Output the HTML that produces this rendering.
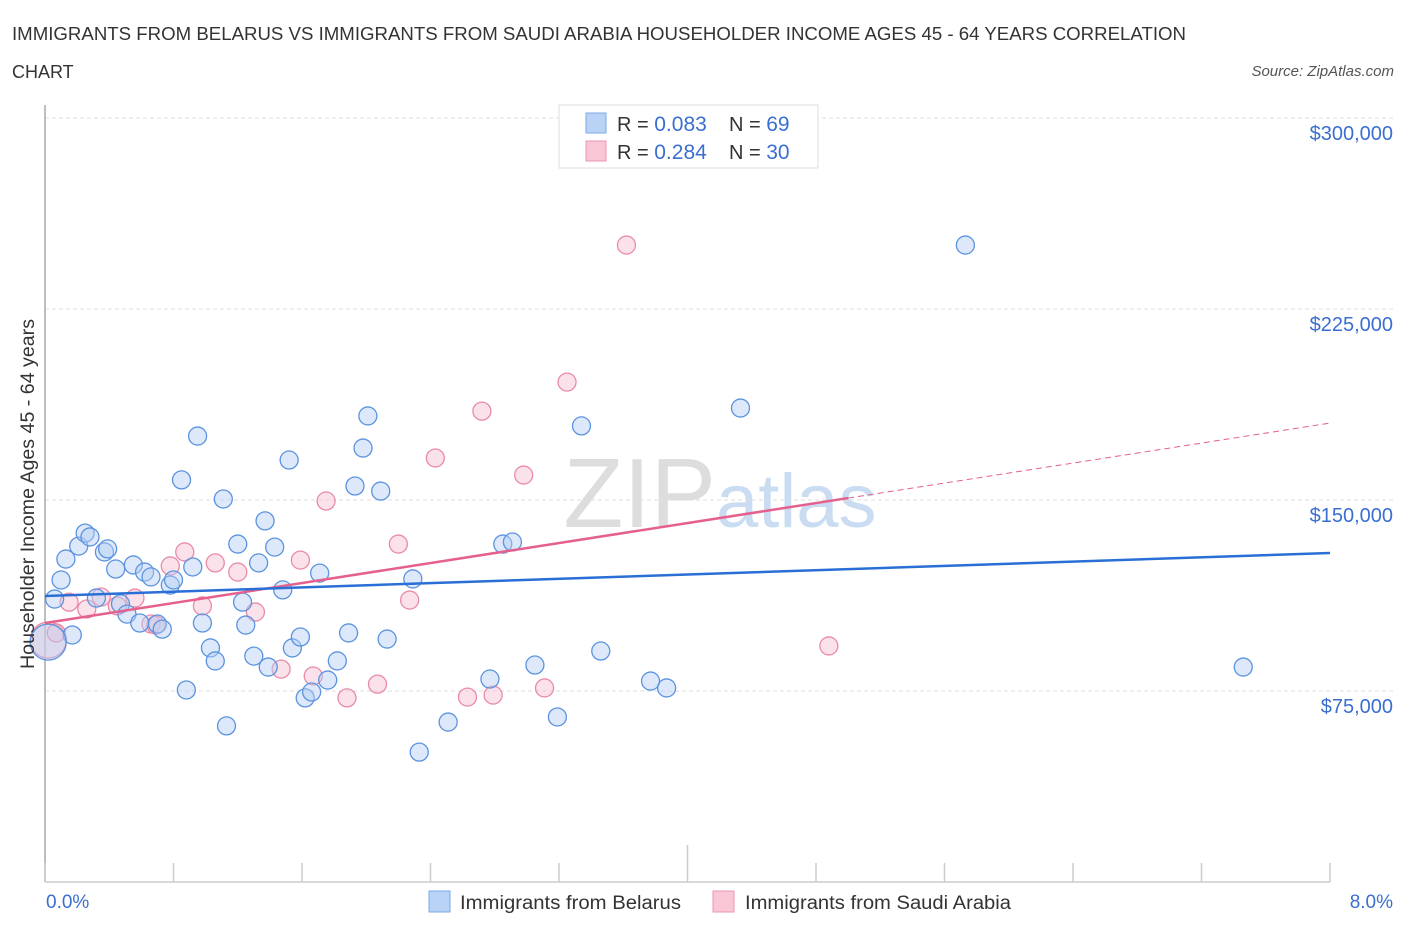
<!DOCTYPE html>
<html><head><meta charset="utf-8">
<style>
body{margin:0;background:#fff;font-family:"Liberation Sans",sans-serif;}
svg text{font-family:"Liberation Sans",sans-serif;}
</style></head>
<body>
<svg width="1406" height="930" viewBox="0 0 1406 930">
<text x="12" y="40" font-size="18" fill="#333" textLength="1174" lengthAdjust="spacingAndGlyphs">IMMIGRANTS FROM BELARUS VS IMMIGRANTS FROM SAUDI ARABIA HOUSEHOLDER INCOME AGES 45 - 64 YEARS CORRELATION</text>
<text x="12" y="78" font-size="18" fill="#333">CHART</text>
<text x="1394" y="76" font-size="15" fill="#555" font-style="italic" text-anchor="end">Source: ZipAtlas.com</text>
<text x="716" y="527" font-size="98" fill="#ddd" text-anchor="end" font-family="Liberation Serif">ZIP</text>
<text x="716" y="527" font-size="76" fill="#c9dcf2">atlas</text>
<g id="grid"></g>
<g id="axes"></g>
<g id="marks"></g>
<text transform="translate(34,494) rotate(-90)" font-size="19" fill="#333" text-anchor="middle" textLength="350" lengthAdjust="spacingAndGlyphs">Householder Income Ages 45 - 64 years</text>
<text x="46" y="908" font-size="19" fill="#3a6fd0">0.0%</text>
<text x="1393" y="908" font-size="19" fill="#3a6fd0" text-anchor="end">8.0%</text>
<g>
<rect x="559" y="105" width="259" height="63" fill="#fff" stroke="#ddd"/>
<rect x="586" y="113" width="20" height="20" fill="#b8d3f5" stroke="#7aa8e6"/>
<rect x="586" y="141" width="20" height="20" fill="#f9c6d6" stroke="#ec95b1"/>
<text x="617" y="131" font-size="20" fill="#333">R = <tspan fill="#3a6fd0" font-size="21">0.083</tspan></text>
<text x="729" y="131" font-size="20" fill="#333">N = <tspan fill="#3a6fd0" font-size="21">69</tspan></text>
<text x="617" y="159" font-size="20" fill="#333">R = <tspan fill="#3a6fd0" font-size="21"> 0.284</tspan></text>
<text x="729" y="159" font-size="20" fill="#333">N = <tspan fill="#3a6fd0" font-size="21">30</tspan></text>
</g>
<g>
<rect x="429" y="891" width="21" height="21" fill="#b8d3f5" stroke="#7aa8e6"/>
<text x="460" y="909" font-size="19" fill="#333" textLength="221" lengthAdjust="spacingAndGlyphs">Immigrants from Belarus</text>
<rect x="713" y="891" width="21" height="21" fill="#f9c6d6" stroke="#ec95b1"/>
<text x="745" y="909" font-size="19" fill="#333" textLength="266" lengthAdjust="spacingAndGlyphs">Immigrants from Saudi Arabia</text>
</g>
</svg>
<script>
const yTicks=[75000,150000,225000,300000];
const yTickLabels=["$75,000","$150,000","$225,000","$300,000"];
const xTicks=[0,0.8,1.6,2.4,3.2,4.0,4.8,5.6,6.4,7.2,8.0];
const belX=[0.06,0.10,0.13,0.17,0.21,0.25,0.28,0.32,0.37,0.39,0.44,0.47,0.51,0.55,0.59,0.62,0.66,0.70,0.73,0.78,0.80,0.85,0.88,0.92,0.95,0.98,1.03,1.06,1.11,1.13,1.20,1.23,1.25,1.30,1.33,1.37,1.39,1.43,1.48,1.52,1.54,1.59,1.62,1.66,1.71,1.76,1.82,1.89,1.93,1.98,2.01,2.09,2.13,2.29,2.33,2.51,2.77,2.85,2.91,3.05,3.19,3.34,3.46,3.77,3.87,4.33,5.73,7.46,0.02];
const belY=[111100,118600,126800,97000,131900,137000,135500,111500,129600,130800,122900,109200,105200,124500,101700,121700,119800,101300,99300,116600,118600,157900,75400,123700,175100,101700,91900,86800,150400,61300,132700,109900,100900,88700,125300,141800,84400,131500,114700,165700,91900,96200,72300,74600,121300,79300,86800,97800,155500,170400,183000,153500,95400,119000,51000,62800,79700,132700,133500,85200,64800,179100,90700,78900,76200,186100,250100,84400,94200];
const belSize=belX.map((v,i)=>i===belX.length-1?18:9);
const sauX=[0.02,0.07,0.15,0.26,0.35,0.45,0.56,0.66,0.69,0.78,0.87,0.98,1.06,1.20,1.31,1.47,1.59,1.67,1.75,1.88,2.07,2.20,2.27,2.43,2.63,2.72,2.79,2.98,3.11,3.25,3.62,4.88];
const sauY=[95000,97800,109900,107200,111900,108400,111500,101300,100900,124100,129600,108400,125300,121700,106000,83600,126400,80900,149600,72300,77700,132700,110700,166500,72600,184900,73400,159800,76200,196300,250100,92700];
const belTrend=[112300,129200];
const sauTrend=[101700,180200];
const sauSolidEnd=5.0;

const X0=45,X1=1330,Y0=882,Y1=118;
const xs=v=>X0+v/8*(X1-X0);
const ys=v=>Y0-v/300000*(Y0-Y1);
const NS="http://www.w3.org/2000/svg";
function mk(tag,attrs,parent){const e=document.createElementNS(NS,tag);for(const k in attrs)e.setAttribute(k,attrs[k]);parent.appendChild(e);return e;}
const grid=document.getElementById('grid'),axes=document.getElementById('axes'),marks=document.getElementById('marks');
yTicks.forEach((t,i)=>{
 const l=mk('line',{x1:X0,x2:1394,y1:ys(t),y2:ys(t),stroke:'#ddd','stroke-dasharray':'4,3'},grid);
 
 
 const tx=mk('text',{x:1393,y:ys(t)+22,'font-size':20,fill:'#3a6fd0','text-anchor':'end'},grid);
 tx.textContent=yTickLabels[i];
 
 
});
const ya=mk('line',{x1:X0,x2:X0,y1:105,y2:Y0,stroke:'#aaa','stroke-width':1.5},axes);


const xa=mk('line',{x1:X0,x2:X1,y1:Y0,y2:Y0,stroke:'#ccc','stroke-width':1.5},axes);


xTicks.forEach((t,i)=>{
 const tk=mk('line',{x1:xs(t),x2:xs(t),y1:(i===5?845:863),y2:Y0,stroke:'#ccc','stroke-width':1.5},axes);
 
 
});
function dots(X,Y,fill,stroke,name,sizes){
 X.forEach((x,i)=>{
  const c=mk('circle',{cx:xs(x),cy:ys(Y[i]),r:sizes?sizes[i]:9,fill:fill,'fill-opacity':0.45,stroke:stroke,'stroke-width':1.3},marks);
  
  
 });
}
dots(sauX,sauY,'#f7bfd1','#e98aa9','saudi-point',sauX.map((v,i)=>i===0?18:9));
dots(belX,belY,'#b3cff3','#5b93e0','belarus-point',belSize);
const sEndY=sauTrend[0]+(sauTrend[1]-sauTrend[0])*sauSolidEnd/8;
const ps=mk('line',{x1:xs(0),y1:ys(sauTrend[0]),x2:xs(sauSolidEnd),y2:ys(sEndY),stroke:'#e5608c','stroke-width':2.5},marks);


const pd=mk('line',{x1:xs(sauSolidEnd),y1:ys(sEndY),x2:xs(8),y2:ys(sauTrend[1]),stroke:'#e5608c','stroke-width':1,'stroke-dasharray':'6,4'},marks);


const bl=mk('line',{x1:xs(0),y1:ys(belTrend[0]),x2:xs(8),y2:ys(belTrend[1]),stroke:'#2a6fd6','stroke-width':2.5},marks);


</script>
</body></html>
